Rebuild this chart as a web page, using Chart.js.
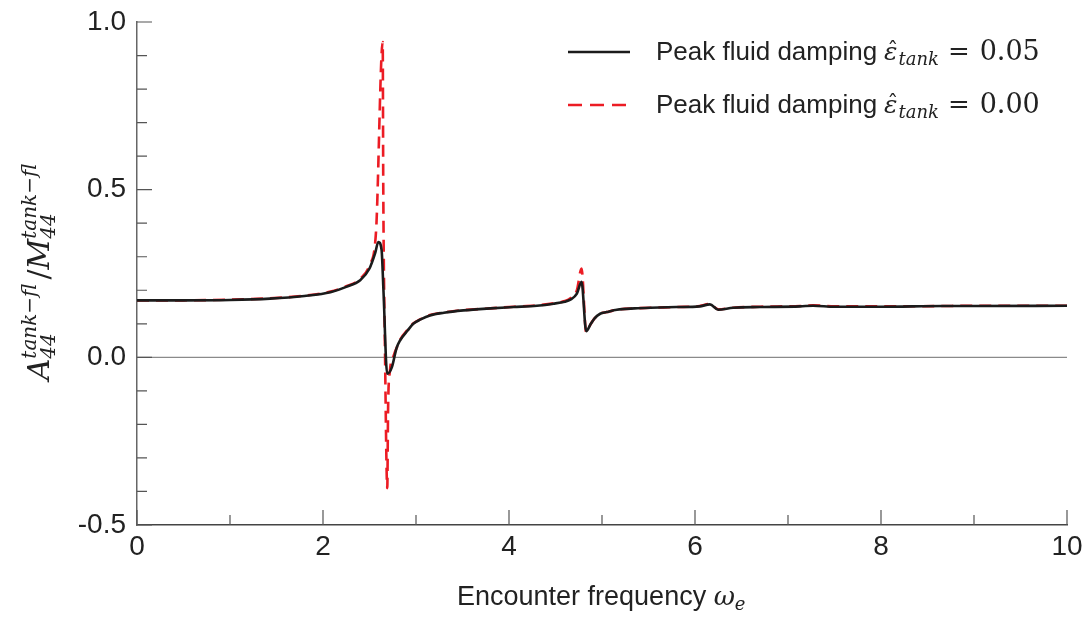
<!DOCTYPE html>
<html>
<head>
<meta charset="utf-8">
<script src="https://cdn.jsdelivr.net/npm/chart.js@4.4.1/dist/chart.umd.min.js"></script>
<style>
  html, body { margin: 0; background: #fff; }
  #wrap { width: 1088px; height: 618px; position: relative; }
</style>
</head>
<body>
<div id="wrap"><canvas id="addedMassChart"></canvas></div>
<script>
// encounter frequency / normalised tank added inertia, peak damping 0.05
const omegaDamped = [0, 0.5, 1.0, 1.43, 1.8, 2.08, 2.25, 2.40, 2.50, 2.56, 2.595, 2.63, 2.65, 2.69, 2.74,
  2.79, 2.83, 2.91, 2.97, 3.05, 3.15, 3.30, 3.51, 3.80, 4.05, 4.30, 4.48, 4.60, 4.66, 4.73, 4.78, 4.83,
  4.88, 4.92, 4.98, 5.05, 5.16, 5.35, 5.52, 5.80, 6.05, 6.16, 6.25, 6.41, 6.70, 7.13, 7.27, 7.50, 8.00,
  8.67, 9.00, 10.0];
const addedDamped = [0.170, 0.170, 0.171, 0.175, 0.183, 0.194, 0.210, 0.230, 0.265, 0.310, 0.344, 0.320,
  0.200, -0.049, -0.030, 0.027, 0.051, 0.080, 0.100, 0.113, 0.125, 0.133, 0.140, 0.146, 0.150, 0.154,
  0.160, 0.166, 0.172, 0.190, 0.225, 0.078, 0.100, 0.116, 0.130, 0.135, 0.142, 0.146, 0.148, 0.150,
  0.152, 0.158, 0.142, 0.148, 0.150, 0.152, 0.154, 0.151, 0.151, 0.153, 0.153, 0.154];

// peak damping 0.00
const omegaUndamped = [0, 0.5, 1.0, 1.43, 1.8, 2.08, 2.25, 2.40, 2.50, 2.57, 2.642, 2.648, 2.667, 2.691,
  2.70, 2.72, 2.76, 2.79, 2.83, 2.91, 2.97, 3.05, 3.15, 3.30, 3.51, 3.80, 4.05, 4.30, 4.48, 4.60, 4.66,
  4.73, 4.78, 4.83, 4.88, 4.92, 4.98, 5.05, 5.16, 5.35, 5.52, 5.80, 6.05, 6.16, 6.25, 6.41, 6.70, 7.13,
  7.27, 7.50, 8.00, 8.67, 9.00, 10.0];
const addedUndamped = [0.170, 0.170, 0.172, 0.176, 0.184, 0.196, 0.212, 0.234, 0.275, 0.374, 0.940,
  0.510, 0.010, -0.390, -0.150, -0.040, 0.005, 0.027, 0.053, 0.082, 0.101, 0.114, 0.126, 0.134, 0.141,
  0.146, 0.151, 0.155, 0.161, 0.168, 0.176, 0.200, 0.265, 0.075, 0.100, 0.116, 0.130, 0.135, 0.142,
  0.146, 0.148, 0.150, 0.153, 0.159, 0.143, 0.148, 0.151, 0.153, 0.155, 0.152, 0.152, 0.153, 0.154, 0.154];

const dampingLabels = ["0.05", "0.00"];
const xMajorTicks = [0, 2, 4, 6, 8, 10];
const yMajorTicks = [-0.5, 0.0, 0.5, 1.0];

const SANS = "'Liberation Sans', Arial, Helvetica, sans-serif";
const SERIF = "'DejaVu Serif', 'Liberation Serif', serif";
const BLACK = "#1b1b1b";
const RED = "#ec1c24";

const toPoints = (xs, ys) => xs.map((x, i) => ({ x: x, y: ys[i] }));
const isMajorY = v => yMajorTicks.some(t => Math.abs(t - v) < 1e-6);
const isMajorX = v => xMajorTicks.some(t => Math.abs(t - v) < 1e-6);

// draws a run of pieces [{t, font, dy}] left to right, returns end x
function drawRun(ctx, pieces, x, y) {
  pieces.forEach(p => {
    ctx.font = p.font;
    ctx.fillText(p.t, x, y + (p.dy || 0));
    x += ctx.measureText(p.t).width + (p.gap || 0);
  });
  return x;
}

const axisDecor = {
  id: "axisDecor",
  beforeDatasetsDraw(chart) {
    const { ctx, chartArea: a, scales: { x, y } } = chart;
    ctx.save();
    // zero line
    const y0 = y.getPixelForValue(0);
    ctx.strokeStyle = "#8a8a8a";
    ctx.lineWidth = 1.3;
    ctx.beginPath();
    ctx.moveTo(a.left, y0);
    ctx.lineTo(a.right, y0);
    ctx.stroke();
    // inward ticks
    ctx.strokeStyle = "#555";
    ctx.lineWidth = 1.2;
    ctx.beginPath();
    y.ticks.forEach(t => {
      const py = y.getPixelForValue(t.value);
      const len = isMajorY(t.value) ? 15 : 10;
      ctx.moveTo(a.left, py);
      ctx.lineTo(a.left + len, py);
    });
    x.ticks.forEach(t => {
      const px = x.getPixelForValue(t.value);
      const len = isMajorX(t.value) ? 15 : 10;
      ctx.moveTo(px, a.bottom);
      ctx.lineTo(px, a.bottom - len);
    });
    ctx.stroke();
    ctx.restore();
  },
  afterDraw(chart) {
    const { ctx } = chart;
    ctx.save();
    ctx.fillStyle = "#222";
    ctx.textBaseline = "alphabetic";

    // legend
    const rows = [
      { color: BLACK, dash: [], label: dampingLabels[0], y: 52 },
      { color: RED, dash: [14, 8], label: dampingLabels[1], y: 105 }
    ];
    rows.forEach(r => {
      ctx.strokeStyle = r.color;
      ctx.lineWidth = 2.6;
      ctx.setLineDash(r.dash);
      ctx.beginPath();
      ctx.moveTo(568, r.y);
      ctx.lineTo(630, r.y);
      ctx.stroke();
      ctx.setLineDash([]);
      const base = r.y + 8;
      drawRun(ctx, [{ t: "Peak fluid damping ", font: "26px " + SANS }], 656, base);
      let px = 884;
      ctx.font = "italic 25px " + SERIF;
      const we = ctx.measureText("\u03b5").width;
      ctx.fillText("\u03b5", px, base);
      ctx.font = "22px " + SERIF;
      const wh = ctx.measureText("\u02c6").width;
      ctx.fillText("\u02c6", px + we / 2 - wh / 2 + 2, base - 2);
      px += we + 1;
      drawRun(ctx, [
        { t: "tank", font: "italic 18px " + SERIF, dy: 5, gap: 9 },
        { t: "=", font: "26px " + SERIF, gap: 10 },
        { t: r.label, font: "27px " + SERIF }
      ], px, base);
    });

    // x axis title
    drawRun(ctx, [
      { t: "Encounter frequency ", font: "27px " + SANS },
      { t: "\u03c9", font: "italic 26px " + SERIF },
      { t: "e", font: "italic 18px " + SERIF, dy: 5 }
    ], 457, 605);

    // y axis title, rotated
    ctx.translate(49, 272);
    ctx.rotate(-Math.PI / 2);
    const big = "italic 30px " + SERIF, small = "italic 20px " + SERIF, up = "30px " + SERIF;
    ctx.font = small;
    const sw = Math.max(ctx.measureText("tank\u2212fl").width, ctx.measureText("44").width);
    ctx.font = big; const wA = ctx.measureText("A").width; const wM = ctx.measureText("M").width;
    ctx.font = up; const wS = ctx.measureText("/").width;
    const total = wA + sw + 4 + wS + wM + sw;
    let tx = -total / 2;
    const drawStack = (px) => {
      ctx.font = small;
      ctx.fillText("tank\u2212fl", px, -13);
      ctx.fillText("44", px, 6);
    };
    ctx.font = big; ctx.fillText("A", tx, 0); tx += wA;
    drawStack(tx); tx += sw + 4;
    ctx.font = up; ctx.fillText("/", tx, 0); tx += wS;
    ctx.font = big; ctx.fillText("M", tx, 0); tx += wM;
    drawStack(tx);
    ctx.restore();
  }
};

new Chart(document.getElementById("addedMassChart"), {
  type: "line",
  data: {
    datasets: [
      {
        label: "Peak fluid damping 0.05",
        data: toPoints(omegaDamped, addedDamped),
        borderColor: BLACK,
        borderWidth: 2.6,
        pointRadius: 0,
        cubicInterpolationMode: "monotone",
        fill: false
      },
      {
        label: "Peak fluid damping 0.00",
        data: toPoints(omegaUndamped, addedUndamped),
        borderColor: RED,
        borderWidth: 2.6,
        borderDash: [12, 7],
        pointRadius: 0,
        cubicInterpolationMode: "monotone",
        fill: false
      }
    ]
  },
  options: {
    responsive: true,
    maintainAspectRatio: false,
    animation: false,
    layout: { padding: { top: 22, right: 21, left: 0, bottom: 0 } },
    plugins: {
      legend: { display: false },
      tooltip: { enabled: false }
    },
    scales: {
      x: {
        type: "linear",
        min: 0,
        max: 10,
        grid: { display: false, drawTicks: false },
        border: { display: true, color: "#444", width: 1.5 },
        ticks: {
          stepSize: 1,
          autoSkip: false,
          maxRotation: 0,
          padding: 5,
          color: "#222",
          font: { family: SANS, size: 28 },
          callback: v => isMajorX(v) ? String(v) : ""
        },
        afterFit: s => { s.height = 93; s.paddingLeft = 0; s.paddingRight = 0; }
      },
      y: {
        min: -0.5,
        max: 1.0,
        grid: { display: false, drawTicks: false },
        border: { display: true, color: "#666", width: 1.5 },
        ticks: {
          stepSize: 0.1,
          autoSkip: false,
          padding: 11,
          color: "#222",
          font: { family: SANS, size: 28 },
          callback: v => isMajorY(v) ? v.toFixed(1) : ""
        },
        afterFit: s => { s.width = 137; s.paddingTop = 0; s.paddingBottom = 0; }
      }
    }
  },
  plugins: [axisDecor]
});
</script>
</body>
</html>
